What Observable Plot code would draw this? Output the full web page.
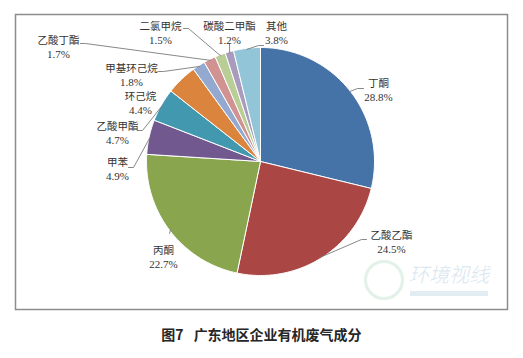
<!DOCTYPE html>
<html>
<head>
<meta charset="utf-8">
<script src="https://cdn.jsdelivr.net/npm/d3@7"></script>
<script src="https://cdn.jsdelivr.net/npm/@observablehq/plot@0.6"></script>
<style>
  html, body { margin: 0; padding: 0; background: #fff; }
  #wrap { position: relative; width: 523px; height: 358px; overflow: hidden; }
  #chart svg { display: block; }
  #cap { position: absolute; left: 0; top: 318px; width: 523px; height: 32px; line-height: 32px;
         text-align: center; font-family: "Noto Sans CJK SC", sans-serif; font-weight: bold;
         font-size: 14px; color: #262626; white-space: pre; }
  #cap .n { margin-right: 10px; }
  #wm { position: absolute; left: 362px; top: 258px; width: 140px; height: 48px; pointer-events: none; opacity: 0.45; }
  #wm .c { position: absolute; left: 2px; top: 2px; width: 40px; height: 40px; border-radius: 50%;
           border: 3px solid #bfe3d0; box-sizing: border-box; }
  #wm .t { position: absolute; left: 47px; top: 1px; font-family: "Noto Sans CJK SC", sans-serif;
           font-style: italic; font-weight: 300; font-size: 20px; color: #a9c6dc; }
  #wm .b { position: absolute; left: 48px; top: 33px; width: 78px; height: 5px; background: #c0d6e6; }
</style>
</head>
<body>
<div id="wrap">
  <div id="chart"></div>
  <div id="wm"><div class="c"></div><div class="t">环境视线</div><div class="b"></div></div>
  <div id="cap"><span class="n">图7</span>广东地区企业有机废气成分</div>
</div>
<script>
// ---- data ----
const names  = ["丁酮", "乙酸乙酯", "丙酮", "甲苯", "乙酸甲酯", "环己烷", "甲基环己烷", "乙酸丁酯", "二氯甲烷", "碳酸二甲酯", "其他"];
const values = [28.8, 24.5, 22.7, 4.9, 4.7, 4.4, 1.8, 1.7, 1.5, 1.2, 3.8];
const colors = ["#4572A7", "#AA4643", "#89A54E", "#71588F", "#4198AF", "#DB843D", "#93A9CF", "#D19392", "#B9CD96", "#A99BBD", "#92C5D8"];

// ---- layout (label block centres and leader starts, px offsets from pie centre, y down) ----
const labelOffsets = [[118,-71],[131,81],[-97,96],[-143,8],[-143,-28],[-120,-58],[-129,-86],[-202,-114],[-100,-128],[-31,-128],[16,-128]];
// leader: [startX, startY, stubX, stubY] or null
const leaderOffsets = [
  [103,-73, 97,-73],
  [106,78, 101,78],
  [-91,72, -91,72],
  [-132,6, -127,6],
  [-123,-31, -118,-31],
  null,
  [-102,-90, -97,-90],
  [-180,-118, -175,-118],
  [-77,-133, -72,-133],
  [-31,-118, -31,-118],
  [3,-116, -2,-116]
];
const R = 114;

const rows = names.map((name, i) => ({name, value: values[i]}));
const arcs = d3.pie().sort(null).value(d => d.value)(rows);

const slicePts = arcs.flatMap(a => {
  const name = a.data.name;
  const n = Math.max(2, Math.ceil((a.endAngle - a.startAngle) / (Math.PI / 180)));
  const pts = [{name, x: 0, y: 0}];
  for (let i = 0; i <= n; i++) {
    const t = a.startAngle + (a.endAngle - a.startAngle) * i / n;
    pts.push({name, x: R * Math.sin(t), y: R * Math.cos(t)});
  }
  pts.push({name, x: 0, y: 0});
  return pts;
});

const labels = arcs.map((a, i) => ({
  name: a.data.name,
  pct: a.data.value.toFixed(1) + "%",
  x: labelOffsets[i][0],
  y: -labelOffsets[i][1]
}));

const leaders = arcs.flatMap((a, i) => {
  const L = leaderOffsets[i];
  if (!L) return [];
  const m = (a.startAngle + a.endAngle) / 2;
  const name = a.data.name;
  return [
    {name, x: L[0], y: -L[1]},
    {name, x: L[2], y: -L[3]},
    {name, x: (R - 1) * Math.sin(m), y: (R - 1) * Math.cos(m)}
  ];
});

const chart = Plot.plot({
  width: 523,
  height: 318,
  marginLeft: 15,
  marginRight: 16,
  marginTop: 14,
  marginBottom: 9,
  x: {domain: [-245, 247], axis: null},
  y: {domain: [-148, 147], axis: null},
  color: {domain: names, range: colors},
  marks: [
    Plot.line(slicePts, {x: "x", y: "y", z: "name", fill: "name", stroke: "white", strokeWidth: 1, strokeLinejoin: "round", curve: "linear"}),
    Plot.line(leaders, {x: "x", y: "y", z: "name", stroke: "#7a7a7a", strokeWidth: 0.9, curve: "linear"}),
    Plot.text(labels, {x: "x", y: "y", text: "name", dy: -7, fontSize: 10.5, fontFamily: "Noto Sans CJK SC", fill: "#333"}),
    Plot.text(labels, {x: "x", y: "y", text: "pct", dy: 7, fontSize: 11, fontFamily: "Liberation Serif", fill: "#333"}),
    Plot.frame({stroke: "#8c8c8c", strokeWidth: 1.5})
  ]
});
document.getElementById("chart").appendChild(chart);
</script>
</body>
</html>
